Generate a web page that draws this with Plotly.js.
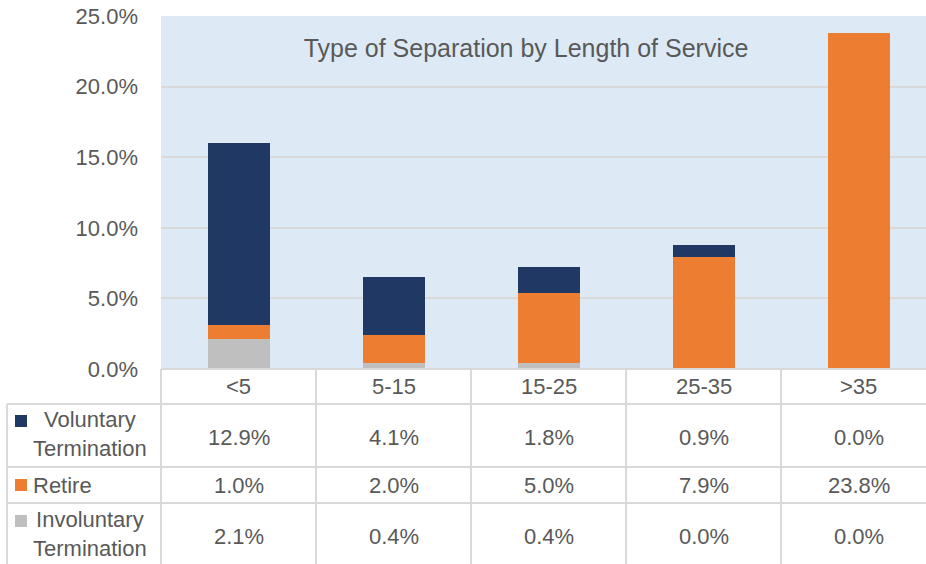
<!DOCTYPE html>
<html>
<head>
<meta charset="utf-8">
<script src="https://cdn.plot.ly/plotly-3.0.1.min.js"></script>
<style>html,body{margin:0;padding:0;background:#fff;}#chart{width:926px;height:564px;}</style>
</head>
<body>
<div id="chart"></div>
<script>
// ---- data ----
var categories = ['<5', '5-15', '15-25', '25-35', '>35'];
var voluntary = [12.9, 4.1, 1.8, 0.9, 0.0];
var retire = [1.0, 2.0, 5.0, 7.9, 23.8];
var involuntary = [2.1, 0.4, 0.4, 0.0, 0.0];
var seriesNames = ['Voluntary<br>Termination', 'Retire', 'Involuntary<br>Termination'];
var chartTitle = 'Type of Separation by Length of Service';
var yTicks = [0, 5, 10, 15, 20, 25];

// ---- styling ----
var C_VOL = '#203864', C_RET = '#ED7D31', C_INV = '#BFBFBF';
var TXT = '#595959', GRID = '#D9D9D9';
var FONT = 'Liberation Sans, Arial, sans-serif';
var W = 926, H = 564, ML = 161, MT = 16;
var xr = [-0.5, 4.435];
var plotW = W - ML;
var bottomPx = 369;
function px2py(p) { return (H - p) / (H - MT); }          // pixel y -> paper y
function px2px(p) { return (p - ML) / plotW; }            // pixel x -> paper x
function d2px(d) { return (d - xr[0]) / (xr[1] - xr[0]); } // data x -> paper x

var traces = [
  {type: 'bar', x: categories, y: involuntary, name: 'Involuntary Termination', marker: {color: C_INV}, width: 0.4, hoverinfo: 'skip'},
  {type: 'bar', x: categories, y: retire, name: 'Retire', marker: {color: C_RET}, width: 0.4, hoverinfo: 'skip'},
  {type: 'bar', x: categories, y: voluntary, name: 'Voluntary Termination', marker: {color: C_VOL}, width: 0.4, hoverinfo: 'skip'}
];

// table geometry (pixels)
var rowLines = [404, 467, 503];
var rowCenters = [437, 485, 536];
var headerCenter = 386;
var tableLeft = 7;

var shapes = [];
var lineStyle = {color: GRID, width: 2};
// top line of header row
shapes.push({type: 'line', xref: 'paper', yref: 'paper', x0: 0, x1: 1.02, y0: px2py(bottomPx), y1: px2py(bottomPx), line: lineStyle});
rowLines.forEach(function (p) {
  shapes.push({type: 'line', xref: 'paper', yref: 'paper', x0: px2px(tableLeft), x1: 1.02, y0: px2py(p), y1: px2py(p), line: lineStyle});
});
// vertical lines
shapes.push({type: 'line', xref: 'paper', yref: 'paper', x0: px2px(tableLeft), x1: px2px(tableLeft), y0: px2py(rowLines[0]), y1: 0, line: lineStyle});
for (var i = 0; i < categories.length; i++) {
  var xp = d2px(i - 0.5);
  shapes.push({type: 'line', xref: 'paper', yref: 'paper', x0: xp, x1: xp, y0: px2py(bottomPx), y1: 0, line: lineStyle});
}
// legend keys
var keyColors = [C_VOL, C_RET, C_INV];
var keyY = [421, 485, 521];
keyY.forEach(function (p, k) {
  shapes.push({type: 'rect', xref: 'paper', yref: 'paper', x0: px2px(15), x1: px2px(27), y0: px2py(p - 6), y1: px2py(p + 6), fillcolor: keyColors[k], line: {width: 0}});
});

var annotations = [];
var tf = {family: FONT, size: 22, color: TXT};
categories.forEach(function (c, i) {
  annotations.push({xref: 'x', yref: 'paper', x: i, y: px2py(headerCenter), text: c.replace('<', '&lt;').replace('>', '&gt;'), showarrow: false, font: tf, xanchor: 'center', yanchor: 'middle'});
});
var rows = [voluntary, retire, involuntary];
rows.forEach(function (arr, r) {
  arr.forEach(function (v, i) {
    annotations.push({xref: 'x', yref: 'paper', x: i, y: px2py(rowCenters[r]), text: v.toFixed(1) + '%', showarrow: false, font: tf, xanchor: 'center', yanchor: 'middle'});
  });
});
var labelY = [434, 485, 534];
seriesNames.forEach(function (n, r) {
  annotations.push({xref: 'paper', yref: 'paper', x: px2px(31), y: px2py(labelY[r]), text: n, showarrow: false, font: tf, xanchor: 'left', yanchor: 'middle', align: 'center'});
});

var layout = {
  width: W, height: H,
  margin: {l: ML, r: 0, t: MT, b: 0, pad: 0},
  paper_bgcolor: '#ffffff',
  plot_bgcolor: '#DDEAF6',
  barmode: 'stack',
  showlegend: false,
  title: {text: chartTitle, font: {family: FONT, size: 25, color: TXT}, xref: 'paper', x: px2px(526), xanchor: 'center', yref: 'container', y: 1 - 48 / H, yanchor: 'middle'},
  xaxis: {range: xr, showticklabels: false, showgrid: false, zeroline: false, showline: false, ticks: '', fixedrange: true},
  yaxis: {range: [0, 25], domain: [px2py(bottomPx), 1], tickvals: yTicks, ticktext: yTicks.map(function (t) { return t.toFixed(1) + '%'; }),
          showgrid: true, gridcolor: GRID, gridwidth: 2, zeroline: false, showline: false, ticks: '',
          tickfont: {family: FONT, size: 22, color: TXT}, ticklabelstandoff: 22, fixedrange: true},
  shapes: shapes,
  annotations: annotations
};

Plotly.newPlot('chart', traces, layout, {displayModeBar: false, staticPlot: true});
</script>
</body>
</html>
